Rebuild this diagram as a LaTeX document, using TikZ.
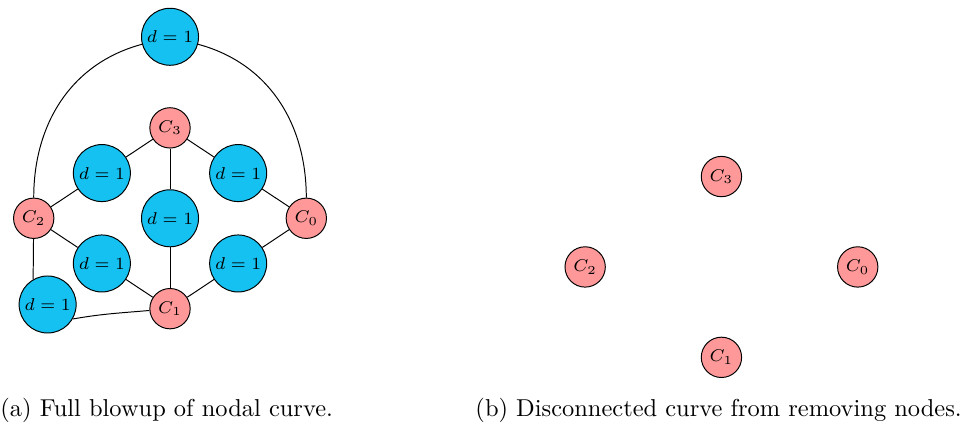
\documentclass[tikz,border=0pt]{standalone}
\usepackage{amsmath,amssymb}
\usepackage{xcolor}
\definecolor{blue1}{HTML}{14C1F1}
\definecolor{pink1}{HTML}{FF9999}
\usepackage{tikz}
\usetikzlibrary{positioning}

\begin{document}
\begin{tikzpicture}[
  on grid,
  dnode/.style={circle,draw,fill=blue1,inner sep=0pt,minimum size=0.82cm,font=\scriptsize},
  cnode/.style={circle,draw,fill=pink1,inner sep=0pt,minimum size=0.58cm,font=\scriptsize},
  caption/.style={anchor=base west,inner sep=0pt},
]
  \useasboundingbox (-2.445,-3.016) rectangle (11.490,3.139);

  % (a) full blowup
  \node[dnode] (mid) {$d=1$};
  \node[cnode,above=1.30cm of mid] (c3) {$C_3$};
  \node[cnode,below=1.30cm of mid] (c1) {$C_1$};
  \node[cnode,left=1.96cm of mid]  (c2) {$C_2$};
  \node[cnode,right=1.96cm of mid] (c0) {$C_0$};

  \node[dnode,above left=0.65cm and 0.98cm of mid]  (ul) {$d=1$};
  \node[dnode,above right=0.65cm and 0.98cm of mid] (ur) {$d=1$};
  \node[dnode,below left=0.65cm and 0.98cm of mid]  (ll) {$d=1$};
  \node[dnode,below right=0.65cm and 0.98cm of mid] (lr) {$d=1$};
  \node[dnode,above=2.61cm of mid] (top) {$d=1$};
  \node[dnode,below left=1.24cm and 1.76cm of mid] (bl) {$d=1$};

  \foreach \a/\b in {c3/ul,c3/ur,c3/mid,mid/c1,c2/ul,c2/ll,c0/ur,c0/lr,ll/c1,lr/c1}{
    \draw (\a) -- (\b);
  }
  \draw (top) to[out=195,in=90] (c2);
  \draw (top) to[out=-15,in=90] (c0);
  \draw (c2) -- (bl.120);
  \draw (bl.-30) to[out=10,in=185] (c1);

  % (b) nodes removed
  \node[cnode] (r3) at (7.93,0.60)  {$C_3$};
  \node[cnode] (r1) at (7.93,-2.00) {$C_1$};
  \node[cnode] (r2) at (5.97,-0.70) {$C_2$};
  \node[cnode] (r0) at (9.89,-0.70) {$C_0$};

  \node[caption] (capa) at (-2.445,-2.853) {(a) Full blowup of nodal curve.};
  \node[caption] (capb) at (4.386,-2.853) {(b) Disconnected curve from removing nodes.};
\end{tikzpicture}
\end{document}
